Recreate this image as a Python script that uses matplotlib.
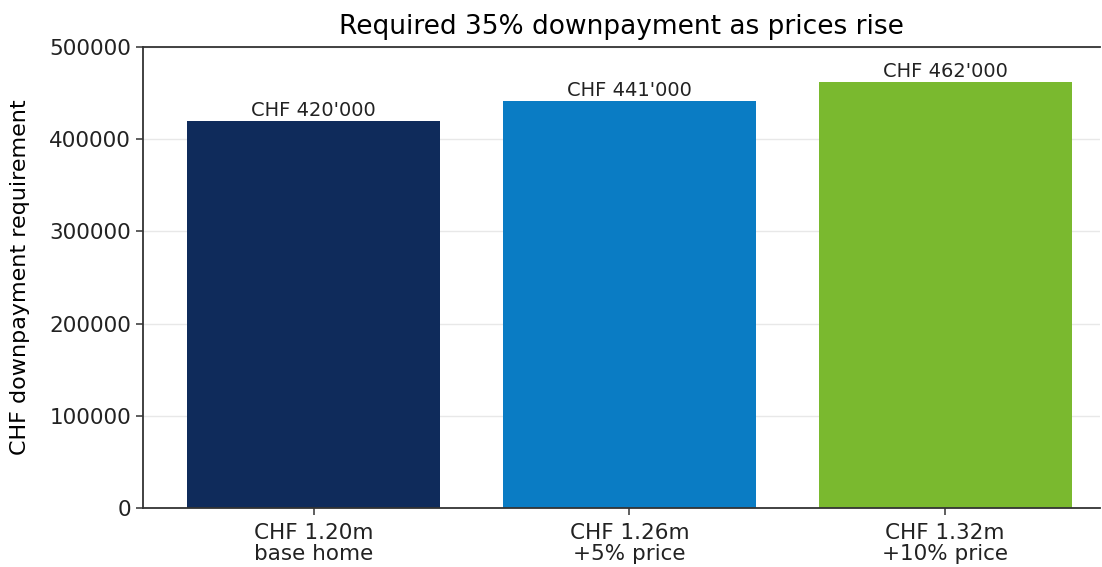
import matplotlib
matplotlib.use("Agg")
import matplotlib.pyplot as plt

categories = ["CHF 1.20m\nbase home", "CHF 1.26m\n+5% price", "CHF 1.32m\n+10% price"]
downpayments = [420000, 441000, 462000]
bar_labels = ["CHF 420'000", "CHF 441'000", "CHF 462'000"]
colors = ["#0f2b5b", "#0a7cc4", "#7ab92f"]


def main():
    fig = plt.figure(figsize=(11.02, 5.67), dpi=100)
    ax = fig.add_axes([143 / 1102, 1 - 508 / 567, (1100 - 143) / 1102, (508 - 47) / 567])

    x = range(len(categories))
    bars = ax.bar(x, downpayments, width=0.8, color=colors, zorder=2)
    for b, lab in zip(bars, bar_labels):
        ax.text(b.get_x() + b.get_width() / 2, b.get_height() + 1000, lab,
                ha="center", va="bottom", fontsize=14, color="#222222")

    ax.set_xticks(list(x))
    ax.set_xticklabels(categories, fontsize=15.5, linespacing=1.05)
    ax.set_xlim(-0.54, 2.49)
    ax.set_ylim(0, 500000)
    ax.set_yticks([0, 100000, 200000, 300000, 400000, 500000])
    ax.tick_params(axis="y", labelsize=15.5)
    ax.tick_params(axis="x", pad=6)
    ax.tick_params(length=5, width=1.1, colors="#333333", labelcolor="#222222")
    ax.yaxis.grid(True, color="#e8e8e8", linewidth=1.0, zorder=0)
    ax.set_axisbelow(True)
    ax.spines["right"].set_visible(False)
    for s in ["left", "bottom", "top"]:
        ax.spines[s].set_linewidth(1.3)
        ax.spines[s].set_color("#333333")

    ax.set_ylabel("CHF downpayment requirement", fontsize=16, labelpad=14)
    ax.set_title("Required 35% downpayment as prices rise", fontsize=19, pad=9)

    fig.savefig("out.png", dpi=100)


if __name__ == "__main__":
    main()
